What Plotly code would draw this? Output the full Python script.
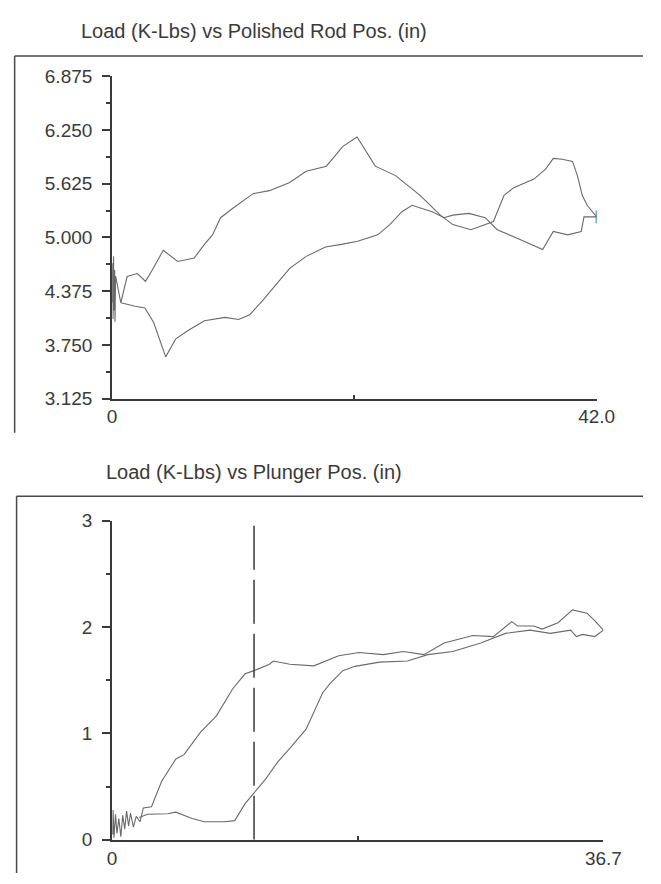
import plotly.graph_objects as go

# ---- Polished rod dynamometer card (surface) ----
rod_up_pos = [0.0, 0.05, 0.08, 0.12, 0.17, 0.22, 0.25, 0.3, 0.42, 0.75, 1.30, 2.18, 2.89, 3.43, 4.43,
              5.69, 7.11, 8.00, 8.70, 9.40, 10.46, 12.22, 13.64, 15.39, 16.82, 18.57, 20.00,
              21.23, 22.81, 24.57, 26.69, 28.45, 29.53, 31.10, 33.05, 33.97, 34.81, 36.56,
              37.57, 38.24, 39.00, 39.91, 40.33, 40.75, 41.17, 42.0]
rod_up_load = [4.24, 4.70, 4.05, 4.78, 4.15, 4.62, 4.02, 4.55, 4.47, 4.24, 4.545, 4.58, 4.49, 4.61, 4.85,
               4.72, 4.76, 4.92, 5.03, 5.23, 5.34, 5.51, 5.545, 5.64, 5.77, 5.83, 6.06,
               6.17, 5.83, 5.72, 5.49, 5.26, 5.15, 5.09, 5.185, 5.49, 5.58, 5.68,
               5.795, 5.92, 5.91, 5.885, 5.72, 5.49, 5.375, 5.24]

rod_down_pos = [42.0, 40.9, 40.66, 39.49, 38.24, 37.32, 35.31, 33.38, 32.34, 30.92, 29.53,
                28.77, 27.74, 26.0, 25.12, 24.07, 23.02, 21.28, 19.88, 18.49, 16.82,
                15.39, 14.13, 13.08, 11.92, 10.96, 9.79, 8.0, 6.61, 5.52, 4.64, 3.60,
                2.84, 2.01, 0.75]
rod_down_load = [5.24, 5.24, 5.07, 5.03, 5.07, 4.86, 4.98, 5.09, 5.23, 5.28, 5.26,
                 5.23, 5.30, 5.375, 5.30, 5.15, 5.03, 4.955, 4.92, 4.89, 4.78,
                 4.64, 4.44, 4.27, 4.10, 4.045, 4.07, 4.03, 3.92, 3.82, 3.61, 4.01,
                 4.18, 4.20, 4.24]

# ---- Plunger (downhole) card ----
plg_up_pos = [0.04, 0.07, 0.14, 0.25, 0.36, 0.50, 0.65, 0.79, 0.94, 1.08, 1.23, 1.37, 1.59, 1.80,
              2.09, 2.33, 2.94, 3.70, 4.76, 5.37, 6.59, 7.79, 9.01, 9.93, 10.60, 11.75, 12.04,
              13.27, 15.07, 16.92, 18.44, 20.26, 21.77, 23.29, 24.80, 26.95, 28.48, 29.85,
              30.28, 31.51, 32.12, 33.31, 34.39, 35.47, 36.05, 36.7]
plg_up_load = [0.05, 0.28, 0.02, 0.24, 0.06, 0.20, 0.03, 0.23, 0.10, 0.27, 0.13, 0.25, 0.12, 0.22,
               0.17, 0.30, 0.31, 0.55, 0.76, 0.80, 1.01, 1.165, 1.42, 1.56, 1.59, 1.65, 1.68,
               1.65, 1.635, 1.73, 1.76, 1.74, 1.77, 1.74, 1.85, 1.92, 1.91, 2.05,
               2.01, 2.01, 1.98, 2.04, 2.16, 2.13, 2.06, 1.97]

plg_down_pos = [36.7, 36.05, 35.15, 34.68, 34.25, 32.73, 31.22, 29.38, 27.54, 25.45, 23.58,
                22.06, 19.97, 18.14, 17.23, 16.29, 15.72, 14.49, 13.27, 12.36, 11.46, 10.60,
                9.93, 9.16, 8.41, 6.89, 5.98, 4.76, 4.15, 2.64, 2.02]
plg_down_load = [1.97, 1.91, 1.93, 1.91, 1.97, 1.94, 1.97, 1.94, 1.85, 1.77, 1.74,
                 1.68, 1.67, 1.63, 1.59, 1.47, 1.38, 1.04, 0.86, 0.73, 0.57, 0.44,
                 0.34, 0.18, 0.17, 0.17, 0.20, 0.26, 0.245, 0.24, 0.21]

plunger_marker_pos = 10.6

rod_yticks = [3.125, 3.750, 4.375, 5.000, 5.625, 6.250, 6.875]
plg_yticks = [0, 1, 2, 3]
rod_stroke = 42.0
plg_stroke = 36.7

W, H = 661, 884
INK = "#3a3a3a"
CURVE = "#6a6a6a"
FONT = "Liberation Sans, Arial, sans-serif"


def px(x):
    return x / W


def py(y):
    return 1 - y / H


fig = go.Figure()

for xs, ys in [(rod_up_pos, rod_up_load), (rod_down_pos, rod_down_load)]:
    fig.add_trace(go.Scatter(x=xs, y=ys, mode="lines", xaxis="x", yaxis="y",
                             line=dict(color=CURVE, width=1.1), hoverinfo="skip"))
fig.add_trace(go.Scatter(x=[rod_up_pos[-1]], y=[rod_up_load[-1]], mode="markers", xaxis="x", yaxis="y",
                         marker=dict(symbol="line-ns", size=9, line=dict(color="#2b8a9c", width=2)),
                         hoverinfo="skip"))

for xs, ys in [(plg_up_pos, plg_up_load), (plg_down_pos, plg_down_load)]:
    fig.add_trace(go.Scatter(x=xs, y=ys, mode="lines", xaxis="x2", yaxis="y2",
                             line=dict(color=CURVE, width=1.1), hoverinfo="skip"))
fig.add_trace(go.Scatter(x=[plunger_marker_pos, plunger_marker_pos], y=[plg_yticks[0], plg_yticks[-1]],
                         mode="lines", xaxis="x2", yaxis="y2",
                         line=dict(color=INK, width=1.5, dash="44px,10px"), hoverinfo="skip"))

tickfont = dict(family=FONT, size=19, color=INK)


def yaxis_common(ticks, fmt, domain, anchor):
    step = ticks[1] - ticks[0]
    return dict(domain=domain, anchor=anchor, range=[ticks[0], ticks[-1]],
                tickvals=ticks, ticktext=[fmt.format(v) for v in ticks],
                ticks="outside", ticklen=8, tickwidth=1.5, tickcolor=INK,
                minor=dict(tickvals=[t + step / 2 for t in ticks[:-1]], ticks="outside",
                           ticklen=4, tickwidth=1.5, tickcolor=INK),
                showline=True, linecolor=INK, linewidth=2, showgrid=False, zeroline=False,
                tickfont=tickfont, ticklabelstandoff=6)


def xaxis_common(stroke, label, domain, anchor, endcolor):
    return dict(domain=domain, anchor=anchor, range=[0, stroke],
                tickvals=[0, stroke], ticktext=["0", label],
                ticks="inside", ticklen=10, tickwidth=1.5, tickcolor=INK,
                minor=dict(tickvals=[stroke / 2], ticks="inside", ticklen=4, tickwidth=1.5, tickcolor=INK),
                showline=True, linecolor=INK, linewidth=2, showgrid=False, zeroline=False,
                tickfont=dict(family=FONT, size=19, color=endcolor), ticklabelstandoff=0)


fig.update_layout(
    width=W, height=H, margin=dict(l=0, r=0, t=0, b=0),
    paper_bgcolor="white", plot_bgcolor="white", showlegend=False,
    xaxis=xaxis_common(rod_stroke, f"{rod_stroke:.1f}", [px(111), px(613)], "y", INK),
    yaxis=yaxis_common(rod_yticks, "{:.3f}", [py(398), py(68)], "x"),
    xaxis2=xaxis_common(plg_stroke, f"{plg_stroke:.1f}", [px(111), px(620)], "y2", INK),
    yaxis2=yaxis_common(plg_yticks, "{:d}", [py(850), py(523)], "x2"),
)

# chart titles
for text, yc in [("Load (K-Lbs) vs Polished Rod Pos. (in)", 21),
                 ("Load (K-Lbs) vs Plunger Pos. (in)", 473)]:
    fig.add_annotation(text=text, xref="paper", yref="paper", x=px(258), y=py(yc),
                       xanchor="center", yanchor="middle", showarrow=False,
                       font=dict(family=FONT, size=20, color=INK))

# panel frames (top and left edges of each window)
frame = dict(color="#4a4a4a", width=1.5)
for left, top, bottom in [(10, 47, 433), (12, 498, 884)]:
    fig.add_shape(type="line", xref="paper", yref="paper", x0=px(left), x1=1, y0=py(top), y1=py(top), line=frame)
    fig.add_shape(type="line", xref="paper", yref="paper", x0=px(left), x1=px(left), y0=py(top), y1=py(bottom), line=frame)

fig.write_html("out.html")
